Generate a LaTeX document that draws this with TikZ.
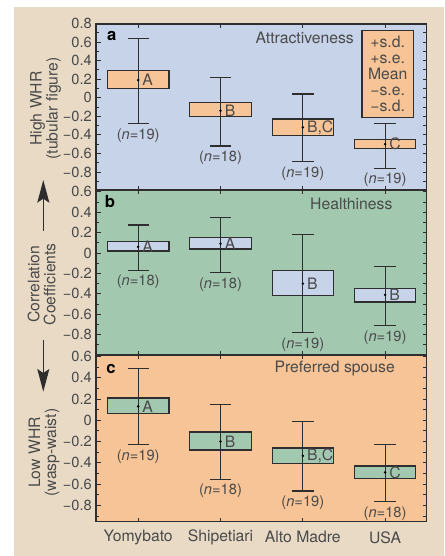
\documentclass[tikz,border=0pt]{standalone}
\usepackage{fontspec}
\setmainfont{TeX Gyre Heros}
\usetikzlibrary{arrows.meta}
\definecolor{paper}{HTML}{E9DAC6}
\definecolor{blueband}{HTML}{C7D3E9}
\definecolor{greenband}{HTML}{A2C9AF}
\definecolor{orangeband}{HTML}{F6C496}
\definecolor{inkgray}{HTML}{4A4A4A}
\definecolor{linegray}{HTML}{2E2E2E}

\begin{document}
\begin{tikzpicture}[x=0.75pt, y=0.75pt,
    txt/.style={font=\fontsize{11.8}{12}\selectfont, text=inkgray, inner sep=1pt},
    ticklab/.style={font=\fontsize{11}{12}\selectfont, text=inkgray, anchor=east, inner sep=0pt},
    nlab/.style={font=\fontsize{11}{12}\selectfont, text=inkgray, below=2.5pt, inner sep=1pt},
    frame/.style={linegray, line width=0.95pt},
    tick/.style={linegray, line width=0.6pt},
    whisk/.style={linegray, line width=0.9pt},
    bar/.style={draw=linegray, line width=0.9pt},
    axisarrow/.style={linegray, line width=0.9pt, -{Stealth[length=17pt, width=9pt, inset=3pt]}}]

\useasboundingbox (0,0) rectangle (444,556);
\fill[paper] (14,0) rectangle (444,549);

% Panels: colour / y of zero / scale / top / bottom / highest tick
\foreach \bg/\yo/\k/\top/\bot/\hi in {blueband/458.3/92.8/532/366/8,
    greenband/303/102/366/201/6, orangeband/135.75/106.4/201/34.3/6}{
  \fill[\bg] (96,\bot) rectangle (426.7,\top);
  \foreach \i in {-9,...,\hi}{
    \ifodd\i
      \draw[tick] (96,{\yo+\k*\i/10}) -- ++(3,0);
    \else
      \draw[tick] (96,{\yo+\k*\i/10}) -- ++(5,0);
    \fi
    \draw[tick] (426.7,{\yo+\k*\i/10}) -- ++(-4,0);
  }
  \foreach \i/\t in {8/0.8, 6/0.6, 4/0.4, 2/0.2, 0/0, -2/−0.2, -4/−0.4, -6/−0.6, -8/−0.8}{
    \ifnum\i>\hi\else
      \node[ticklab] at (92,{\yo+\k*\i/10}) {\t};
    \fi
  }
  \foreach \cx in {138.2,220.5,302.8,385.1}{
    \draw[tick] (\cx,\top) -- ++(0,-4);
    \draw[tick] (\cx,\bot) -- ++(0,4);
  }
}

% Panel a: attractiveness
\foreach \cx/\sdp/\sep/\mn/\sem/\sdm/\grp/\n [count=\c] in {
    138.2/0.64/0.29/0.19/0.10/-0.28/A/19,
    220.5/0.22/-0.05/-0.14/-0.20/-0.52/B/18,
    302.8/0.04/-0.23/-0.32/-0.41/-0.69/{B,C}/19,
    385.1/-0.28/-0.45/-0.50/-0.55/-0.76/C/19}{
  \pgfmathsetmacro\yT{458.3+92.8*\sdp}
  \pgfmathsetmacro\yE{458.3+92.8*\sep}
  \pgfmathsetmacro\yM{458.3+92.8*\mn}
  \pgfmathsetmacro\yF{458.3+92.8*\sem}
  \pgfmathsetmacro\yB{458.3+92.8*\sdm}
  \filldraw[bar, fill=orangeband] (\cx-30.7,\yE) rectangle (\cx+30.7,\yF);
  \draw[whisk] (\cx-10.7,\yT) -- (\cx+10.7,\yT) (\cx,\yT) -- (\cx,\yB)
    (\cx-10.7,\yB) -- (\cx+10.7,\yB);
  \fill[black] (\cx,\yM) circle (1.4);
  \node[txt, anchor=west, inner sep=0pt] (a-grp-\c) at (\cx+4,\yM) {\grp};
  \node[nlab] (a-n-\c) at (\cx,\yB) {(\textit{n}=\n)};
}

% Panel b: healthiness
\foreach \cx/\sdp/\sep/\mn/\sem/\sdm/\grp/\n [count=\c] in {
    138.2/0.275/0.11/0.06/0.02/-0.17/A/18,
    220.5/0.35/0.15/0.09/0.04/-0.19/A/18,
    302.8/0.18/-0.17/-0.30/-0.415/-0.78/B/19,
    385.1/-0.13/-0.35/-0.41/-0.48/-0.71/B/19}{
  \pgfmathsetmacro\yT{303+102*\sdp}
  \pgfmathsetmacro\yE{303+102*\sep}
  \pgfmathsetmacro\yM{303+102*\mn}
  \pgfmathsetmacro\yF{303+102*\sem}
  \pgfmathsetmacro\yB{303+102*\sdm}
  \filldraw[bar, fill=blueband] (\cx-30.7,\yE) rectangle (\cx+30.7,\yF);
  \draw[whisk] (\cx-10.7,\yT) -- (\cx+10.7,\yT) (\cx,\yT) -- (\cx,\yB)
    (\cx-10.7,\yB) -- (\cx+10.7,\yB);
  \fill[black] (\cx,\yM) circle (1.4);
  \node[txt, anchor=west, inner sep=0pt] (b-grp-\c) at (\cx+4,\yM) {\grp};
  \node[nlab] (b-n-\c) at (\cx,\yB) {(\textit{n}=\n)};
}

% Panel c: preferred spouse
\foreach \cx/\sdp/\sep/\mn/\sem/\sdm/\grp/\n [count=\c] in {
    138.2/0.49/0.21/0.13/0.06/-0.23/A/19,
    220.5/0.15/-0.11/-0.20/-0.28/-0.555/B/18,
    302.8/-0.01/-0.26/-0.335/-0.405/-0.665/{B,C}/19,
    385.1/-0.23/-0.43/-0.49/-0.545/-0.765/C/18}{
  \pgfmathsetmacro\yT{135.75+106.4*\sdp}
  \pgfmathsetmacro\yE{135.75+106.4*\sep}
  \pgfmathsetmacro\yM{135.75+106.4*\mn}
  \pgfmathsetmacro\yF{135.75+106.4*\sem}
  \pgfmathsetmacro\yB{135.75+106.4*\sdm}
  \filldraw[bar, fill=greenband] (\cx-30.7,\yE) rectangle (\cx+30.7,\yF);
  \draw[whisk] (\cx-10.7,\yT) -- (\cx+10.7,\yT) (\cx,\yT) -- (\cx,\yB)
    (\cx-10.7,\yB) -- (\cx+10.7,\yB);
  \fill[black] (\cx,\yM) circle (1.4);
  \node[txt, anchor=west, inner sep=0pt] (c-grp-\c) at (\cx+4,\yM) {\grp};
  \node[nlab] (c-n-\c) at (\cx,\yB) {(\textit{n}=\n)};
}

% Frame
\draw[frame] (96,34.3) rectangle (426.7,532);
\draw[frame] (96,366) -- (426.7,366);
\draw[frame] (96,201) -- (426.7,201);

% Panel letters and titles
\node[txt, text=black, font=\fontsize{12.5}{12}\bfseries] (lettera) at (111.7,520) {a};
\node[txt, text=black, font=\fontsize{12.5}{12}\bfseries] (letterb) at (110,354.3) {b};
\node[txt, text=black, font=\fontsize{12.5}{12}\bfseries] (letterc) at (111,187) {c};
\node[txt] (titlea) at (304.7,517.7) {Attractiveness};
\node[txt] (titleb) at (351.3,352) {Healthiness};
\node[txt] (titlec) at (334.7,187.7) {Preferred spouse};

% Legend
\node[txt, draw=linegray, fill=orangeband, line width=0.9pt, align=center,
  minimum width=38.5pt, minimum height=65pt] (legend) at (387.7,482)
  {+s.d.\\+s.e.\\Mean\\−s.e.\\−s.d.};

% Categories
\foreach \cx/\name [count=\c] in {138.2/Yomybato, 220.5/Shipetiari,
    302.8/Alto Madre, 385.1/USA}{
  \node[txt] (cat-\c) at (\cx,18.7) {\name};
}

% Left axis titles and arrows
\node[txt, rotate=90, align=center] (ylaba) at (45.5,447.5) {High WHR\\(tubular figure)};
\node[txt, rotate=90, align=center] (ylabb) at (41.7,271.8) {Correlation\\Coefficients};
\node[txt, rotate=90, align=center] (ylabc) at (44.2,103.5) {Low WHR\\(wasp-waist)};
\coordinate (upS) at (43.3,325.3);
\coordinate (upT) at (43.3,376);
\coordinate (dnS) at (43.3,216);
\coordinate (dnT) at (43.3,164.3);
\draw[axisarrow] (upS) -- (upT);
\draw[axisarrow] (dnS) -- (dnT);

\end{tikzpicture}
\end{document}
